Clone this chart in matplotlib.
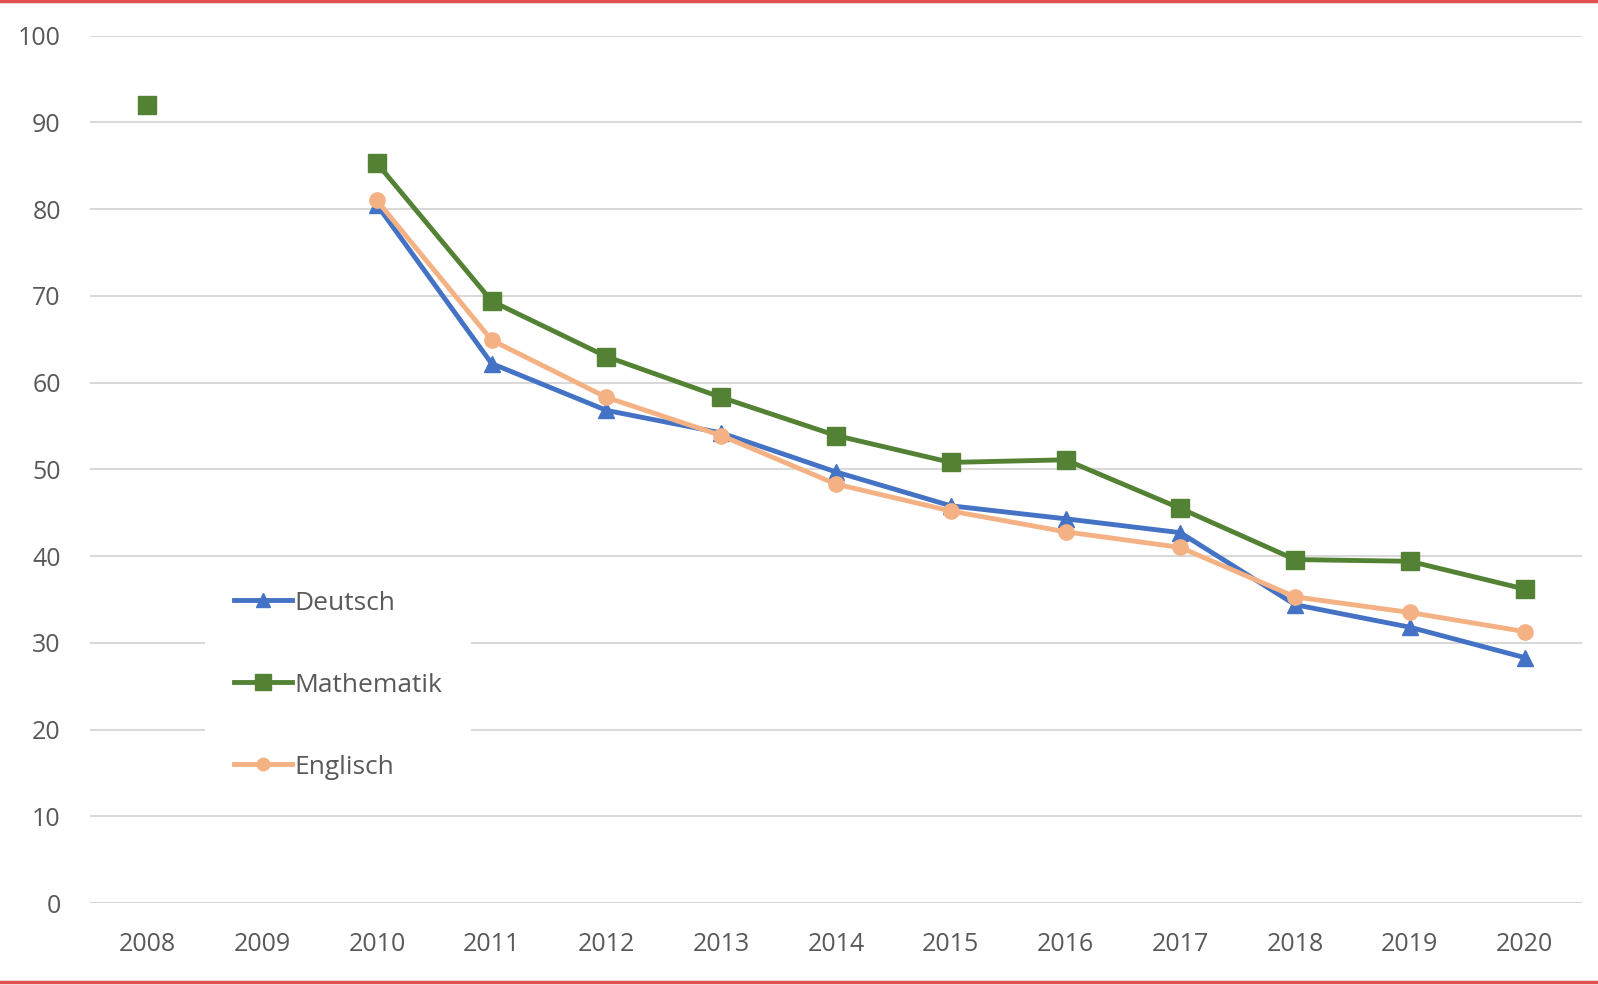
import numpy as np
import matplotlib
matplotlib.use("Agg")
import matplotlib.pyplot as plt
from matplotlib.lines import Line2D

years = ["2008", "2009", "2010", "2011", "2012", "2013", "2014",
         "2015", "2016", "2017", "2018", "2019", "2020"]
deutsch = [np.nan, np.nan, 80.5, 62.2, 56.8, 54.2, 49.7, 45.8, 44.3, 42.7, 34.4, 31.8, 28.3]
mathematik = [92.0, np.nan, 85.3, 69.4, 63.0, 58.3, 53.9, 50.8, 51.1, 45.5, 39.6, 39.4, 36.2]
englisch = [np.nan, np.nan, 81.0, 64.9, 58.3, 53.9, 48.3, 45.2, 42.8, 41.0, 35.3, 33.5, 31.3]
yticks = [0, 10, 20, 30, 40, 50, 60, 70, 80, 90, 100]

c_de = "#4472C4"
c_ma = "#548235"
c_en = "#F4B183"
txt = "#595959"

plt.rcParams['font.family'] = ['Open Sans', 'DejaVu Sans']

fig = plt.figure(figsize=(15.98, 9.85), dpi=100)
ax = fig.add_axes([0.0563, 0.0832, 0.9337, 0.8806])

x = np.arange(len(years))
ax.plot(x, deutsch, color=c_de, lw=3.5, marker='^', ms=12, label="Deutsch", zorder=3)
ax.plot(x, englisch, color=c_en, lw=3.5, marker='o', ms=11, label="Englisch", zorder=4)
ax.plot(x, mathematik, color=c_ma, lw=3.5, marker='s', ms=13, label="Mathematik", zorder=2)

ax.set_xlim(-0.5, len(years) - 0.5)
ax.set_ylim(0, 100)
ax.set_yticks(yticks)
ax.set_xticks(x)
ax.set_xticklabels(years)
ax.grid(axis='y', color='#D9D9D9', lw=1.5)
ax.set_axisbelow(True)
for s in ax.spines.values():
    s.set_visible(False)
ax.tick_params(axis='both', length=0, labelsize=18, colors=txt)
ax.tick_params(axis='x', pad=21)
ax.tick_params(axis='y', pad=21)

handles = [
    Line2D([], [], color=c_de, lw=3.5, marker='^', ms=10),
    Line2D([], [], color=c_ma, lw=3.5, marker='s', ms=11),
    Line2D([], [], color=c_en, lw=3.5, marker='o', ms=9),
]
leg = ax.legend(handles, ["Deutsch", "Mathematik", "Englisch"],
                loc='upper left', bbox_to_anchor=(0.068, 0.409),
                frameon=True, facecolor='white', edgecolor='none', framealpha=1,
                fontsize=19, labelcolor=txt, handlelength=2.2, handletextpad=0.1,
                labelspacing=2.16, borderpad=1.1, fancybox=False)
leg.get_frame().set_linewidth(0)

# red frame lines at top and bottom
fig.add_artist(Line2D([0, 1], [0.999, 0.999], color='#E05050', lw=2.5, transform=fig.transFigure))
fig.add_artist(Line2D([0, 1], [0.003, 0.003], color='#E05050', lw=2.5, transform=fig.transFigure))

fig.savefig("out.png", dpi=100, facecolor='white')
